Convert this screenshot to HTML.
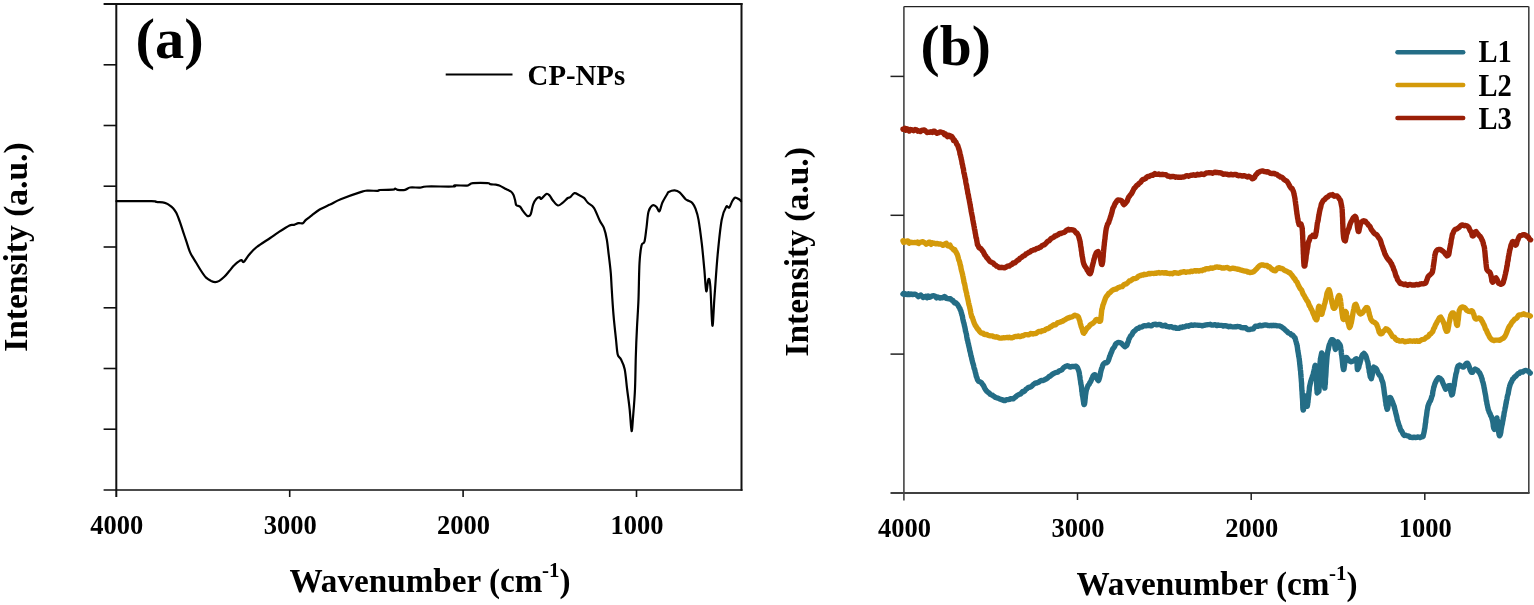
<!DOCTYPE html>
<html><head><meta charset="utf-8"><title>FTIR spectra</title>
<style>
html,body{margin:0;padding:0;background:#fff;}
body{width:1534px;height:605px;overflow:hidden;}
svg{display:block;}
svg text{font-family:"Liberation Serif", "Times New Roman", serif;font-weight:bold;fill:#000;}
</style></head>
<body>
<svg width="1534" height="605" viewBox="0 0 1534 605">
<g stroke="#111" fill="none" stroke-linecap="butt">
<line x1="103.6" y1="4.0" x2="742.5" y2="4.0" stroke-width="1.9"/>
<line x1="103.6" y1="490.0" x2="742.5" y2="490.0" stroke-width="1.7"/>
<line x1="116.3" y1="3.0" x2="116.3" y2="497" stroke-width="2"/>
<line x1="741.5" y1="3.0" x2="741.5" y2="490.8" stroke-width="2"/>
<line x1="103.6" y1="64.8" x2="116.3" y2="64.8" stroke-width="1.6"/>
<line x1="103.6" y1="125.5" x2="116.3" y2="125.5" stroke-width="1.6"/>
<line x1="103.6" y1="186.2" x2="116.3" y2="186.2" stroke-width="1.6"/>
<line x1="103.6" y1="247.0" x2="116.3" y2="247.0" stroke-width="1.6"/>
<line x1="103.6" y1="307.8" x2="116.3" y2="307.8" stroke-width="1.6"/>
<line x1="103.6" y1="368.5" x2="116.3" y2="368.5" stroke-width="1.6"/>
<line x1="103.6" y1="429.2" x2="116.3" y2="429.2" stroke-width="1.6"/>
<line x1="289.7" y1="490.0" x2="289.7" y2="497" stroke-width="1.6"/>
<line x1="463.1" y1="490.0" x2="463.1" y2="497" stroke-width="1.6"/>
<line x1="636.5" y1="490.0" x2="636.5" y2="497" stroke-width="1.6"/>
</g>
<path d="M116.5,201.2 C122.3,201.2 144.9,201.1 151.6,201.2 C158.3,201.3 154.3,201.6 156.5,201.9 C158.7,202.2 162.7,202.4 164.8,202.9 C166.9,203.4 167.5,204.0 168.9,204.9 C170.3,205.8 171.8,206.8 173.1,208.2 C174.3,209.6 175.3,210.9 176.4,213.1 C177.5,215.3 178.6,218.4 179.7,221.4 C180.8,224.4 181.9,228.0 183.0,231.3 C184.1,234.6 185.2,237.9 186.3,241.2 C187.4,244.5 188.6,248.7 189.6,251.2 C190.6,253.7 191.0,254.2 192.1,256.1 C193.2,258.0 194.7,260.2 196.2,262.7 C197.7,265.2 199.5,268.5 201.2,271.0 C202.8,273.5 204.4,276.0 206.1,277.6 C207.8,279.2 209.6,280.1 211.1,280.9 C212.6,281.6 213.8,282.1 215.2,282.1 C216.6,282.1 217.8,281.8 219.3,280.9 C220.8,280.0 222.6,278.4 224.3,276.8 C226.0,275.2 227.7,272.9 229.3,271.0 C231.0,269.1 232.5,266.8 234.2,265.2 C235.8,263.6 237.9,261.9 239.2,261.1 C240.4,260.3 240.9,260.1 241.7,260.2 C242.5,260.3 242.5,262.9 243.8,261.9 C245.1,260.9 247.1,256.9 249.3,254.4 C251.5,251.9 253.3,249.7 256.8,247.0 C260.3,244.3 266.7,240.4 270.2,238.0 C273.7,235.6 274.4,234.9 277.6,232.8 C280.8,230.7 286.8,226.7 289.5,225.4 C292.2,224.1 292.5,225.3 294.0,224.9 C295.5,224.5 297.0,223.5 298.5,223.2 C300.0,222.9 301.7,223.8 302.9,223.2 C304.1,222.6 304.4,221.2 305.9,219.9 C307.4,218.6 309.6,217.1 311.8,215.4 C314.0,213.7 316.3,211.6 319.3,209.8 C322.3,208.0 326.4,206.3 330.0,204.6 C333.6,202.8 335.5,201.4 340.7,199.3 C345.9,197.2 356.9,193.3 361.3,191.9 C365.7,190.5 364.3,190.9 367.1,190.7 C369.9,190.5 375.8,190.9 377.9,190.8 C380.0,190.7 377.0,190.2 379.5,190.0 C382.0,189.8 390.1,189.9 392.7,189.7 C395.3,189.5 394.4,188.6 395.2,188.6 C396.0,188.6 396.0,189.6 397.7,189.8 C399.4,190.0 403.0,190.2 405.1,189.8 C407.2,189.4 407.6,187.9 410.1,187.5 C412.6,187.1 417.2,187.8 420.0,187.6 C422.8,187.4 421.1,186.7 426.6,186.5 C432.1,186.3 448.4,186.7 453.1,186.5 C457.8,186.3 452.4,185.6 454.7,185.4 C457.0,185.2 464.6,185.8 467.1,185.6 C469.6,185.4 468.6,184.9 469.6,184.5 C470.6,184.1 469.9,183.3 472.9,183.1 C475.9,182.9 484.9,182.9 487.8,183.1 C490.7,183.3 488.8,183.9 490.2,184.2 C491.6,184.5 494.5,184.5 496.0,184.7 C497.5,184.9 497.6,184.8 499.3,185.5 C501.0,186.2 504.1,188.0 506.0,189.0 C507.9,190.0 509.7,190.5 510.9,191.5 C512.1,192.5 512.7,193.4 513.4,194.8 C514.1,196.2 514.5,198.1 515.0,199.8 C515.5,201.5 515.5,204.0 516.3,205.1 C517.1,206.2 518.9,205.6 520.0,206.6 C521.1,207.6 521.9,209.6 523.1,211.2 C524.3,212.8 526.0,215.3 527.3,215.9 C528.5,216.5 529.6,216.4 530.6,214.5 C531.6,212.6 532.1,207.2 533.1,204.6 C534.1,202.0 535.3,200.0 536.4,198.8 C537.5,197.6 538.9,197.2 539.7,197.2 C540.5,197.2 540.2,199.4 541.3,198.8 C542.4,198.2 544.9,194.5 546.3,193.9 C547.7,193.3 548.5,194.4 549.6,195.5 C550.7,196.6 551.5,198.8 552.9,200.5 C554.3,202.2 556.2,205.2 557.9,205.5 C559.5,205.8 561.1,203.8 562.8,202.6 C564.4,201.3 566.6,198.9 567.8,198.0 C569.0,197.1 569.1,198.0 570.2,197.2 C571.3,196.4 572.9,193.5 574.4,193.1 C575.9,192.7 577.4,194.2 579.0,195.0 C580.6,195.8 582.5,196.6 584.0,197.9 C585.5,199.2 586.2,201.2 587.9,202.8 C589.5,204.5 591.9,204.8 593.9,207.8 C595.9,210.8 598.1,217.4 599.8,220.7 C601.4,224.0 602.6,224.5 603.8,227.6 C605.0,230.7 606.0,234.9 606.8,239.5 C607.6,244.1 608.1,249.8 608.8,255.4 C609.5,261.0 610.3,267.5 610.8,273.3 C611.3,279.1 611.3,283.1 611.8,290.0 C612.2,296.9 612.8,306.6 613.5,314.8 C614.2,323.1 615.3,332.9 616.0,339.5 C616.7,346.1 616.9,351.1 617.7,354.4 C618.5,357.7 619.7,356.8 620.9,359.3 C622.1,361.8 623.7,364.2 624.7,369.2 C625.7,374.1 626.3,382.4 627.1,389.0 C627.9,395.6 628.9,401.8 629.6,408.8 C630.4,415.8 631.0,430.2 631.6,431.0 C632.2,431.8 632.7,420.8 633.3,413.8 C633.9,406.8 634.6,398.5 635.0,389.0 C635.4,379.5 635.5,367.1 635.8,356.8 C636.1,346.5 636.5,336.7 637.0,327.1 C637.5,317.5 638.1,309.6 638.5,299.0 C638.9,288.4 639.0,272.2 639.5,263.3 C640.0,254.4 640.7,249.1 641.5,245.5 C642.3,241.9 643.7,244.5 644.5,241.5 C645.3,238.5 645.8,232.6 646.5,227.6 C647.2,222.6 647.5,215.4 648.5,211.7 C649.5,208.0 651.1,206.2 652.4,205.4 C653.7,204.6 655.2,205.8 656.4,206.8 C657.6,207.8 658.4,212.0 659.4,211.3 C660.4,210.6 661.0,205.7 662.3,202.8 C663.6,199.9 666.2,195.7 667.3,193.9 C668.4,192.1 667.5,192.5 668.7,191.9 C669.9,191.3 672.9,190.3 674.7,190.4 C676.5,190.5 677.8,190.9 679.6,192.4 C681.4,193.9 684.1,197.8 685.6,199.2 C687.1,200.6 687.5,200.1 688.6,200.8 C689.8,201.5 691.4,202.0 692.5,203.3 C693.6,204.6 694.5,206.0 695.5,208.7 C696.5,211.4 697.5,213.8 698.5,219.6 C699.5,225.4 700.8,235.2 701.8,243.6 C702.8,252.0 703.6,262.2 704.4,270.1 C705.1,278.1 705.6,289.8 706.3,291.3 C707.0,292.8 707.7,280.2 708.4,279.3 C709.1,278.4 709.6,278.3 710.3,286.0 C711.0,293.7 711.7,323.9 712.4,325.7 C713.1,327.5 713.6,308.5 714.5,296.6 C715.4,284.7 716.5,267.0 717.7,254.2 C718.9,241.4 720.3,227.6 721.7,219.7 C723.1,211.8 725.0,208.8 726.2,206.8 C727.5,204.8 728.2,208.5 729.2,207.6 C730.2,206.7 731.2,203.0 732.2,201.3 C733.2,199.6 734.0,197.9 735.1,197.6 C736.2,197.3 738.1,198.7 739.1,199.3 C740.1,199.9 740.7,200.9 741.0,201.2" fill="none" stroke="#000" stroke-width="2.2" stroke-linejoin="round" stroke-linecap="round"/>
<g stroke="#222" fill="none">
<line x1="903.9" y1="6.6" x2="1528.8" y2="6.6" stroke-width="1.4"/>
<line x1="890.5" y1="493" x2="1529.6" y2="493" stroke-width="1.7" stroke="#000"/>
<line x1="903.9" y1="6.6" x2="903.9" y2="500.5" stroke-width="1.6" stroke="#444"/>
<line x1="1528.8" y1="6.6" x2="1528.8" y2="493.0" stroke-width="1.6" stroke="#444"/>
<line x1="890.5" y1="354.1" x2="903.9" y2="354.1" stroke-width="1.5"/>
<line x1="890.5" y1="215.3" x2="903.9" y2="215.3" stroke-width="1.5"/>
<line x1="890.5" y1="76.4" x2="903.9" y2="76.4" stroke-width="1.5"/>
<line x1="1077.5" y1="493.0" x2="1077.5" y2="500" stroke-width="1.5"/>
<line x1="1251.2" y1="493.0" x2="1251.2" y2="500" stroke-width="1.5"/>
<line x1="1424.8" y1="493.0" x2="1424.8" y2="500" stroke-width="1.5"/>
</g>
<path d="M903.0,294.0 L903.7,293.4 L904.4,294.5 L905.3,293.7 L906.3,294.3 L907.4,294.5 L908.5,293.7 L909.7,294.6 L911.0,294.0 L912.4,294.6 L913.8,294.3 L915.3,294.1 L916.7,295.1 L918.3,296.6 L919.8,295.4 L920.8,295.0 L921.9,296.2 L923.1,297.5 L924.3,297.0 L925.6,296.3 L926.9,297.7 L928.2,296.0 L929.6,297.2 L930.9,296.7 L932.3,295.9 L933.7,295.7 L935.1,296.3 L936.4,297.9 L937.7,296.9 L939.0,297.4 L940.2,298.1 L941.4,297.6 L942.6,297.8 L943.6,296.9 L944.6,296.5 L945.5,297.0 L946.3,298.4 L948.9,298.8 L950.4,298.6 L951.2,299.6 L951.9,300.2 L952.9,300.4 L953.9,302.2 L954.8,303.1 L955.8,302.8 L956.8,303.7 L957.7,304.8 L958.6,306.4 L959.5,308.0 L959.9,308.3 L960.2,309.8 L960.6,310.2 L961.0,311.2 L961.3,312.9 L961.6,313.5 L961.9,314.9 L962.3,315.8 L962.6,317.6 L962.9,319.3 L963.2,320.5 L963.5,322.1 L963.9,323.0 L964.2,324.5 L964.5,326.0 L964.8,327.0 L965.0,328.0 L965.3,329.6 L965.5,331.1 L965.8,331.8 L966.1,333.0 L966.3,333.7 L966.6,335.4 L966.8,336.9 L967.1,338.5 L967.3,339.7 L967.6,340.3 L967.8,341.4 L968.1,343.1 L968.4,343.7 L968.6,345.1 L968.9,346.2 L969.1,347.2 L969.4,348.2 L969.7,350.3 L970.0,351.2 L970.3,352.3 L970.6,353.7 L970.9,355.6 L971.2,356.2 L971.5,357.5 L971.8,359.0 L972.2,360.6 L972.5,361.9 L972.8,363.1 L973.1,363.6 L973.3,364.6 L973.6,365.6 L973.9,367.2 L974.2,368.6 L974.4,368.6 L974.8,370.0 L975.2,371.7 L975.6,373.2 L976.0,374.9 L976.3,376.4 L976.7,377.3 L977.0,377.9 L977.3,379.2 L977.7,380.1 L978.6,381.2 L979.5,381.6 L981.0,382.4 L981.5,382.8 L982.1,383.7 L982.8,384.8 L983.4,385.3 L984.2,387.1 L984.9,388.6 L985.7,389.9 L986.5,391.0 L987.4,391.7 L988.3,392.5 L989.3,393.1 L990.2,394.3 L991.2,394.7 L992.3,395.1 L993.3,396.0 L994.5,396.7 L995.6,397.5 L996.8,397.8 L997.9,398.1 L999.1,398.7 L1000.2,399.1 L1001.4,399.7 L1002.5,399.6 L1003.7,400.5 L1004.9,400.6 L1006.0,399.9 L1007.2,399.6 L1008.3,399.5 L1009.5,399.3 L1010.7,398.6 L1011.9,398.9 L1013.1,398.9 L1014.4,397.7 L1015.7,396.9 L1016.6,395.9 L1017.6,395.2 L1018.6,394.8 L1019.6,394.2 L1020.6,394.0 L1021.6,392.8 L1022.7,391.5 L1023.7,391.7 L1024.8,390.8 L1025.9,389.4 L1026.9,388.8 L1028.0,387.7 L1029.1,387.2 L1030.1,387.2 L1031.2,386.6 L1032.2,385.7 L1033.3,384.5 L1034.4,383.8 L1035.5,383.0 L1036.6,383.0 L1037.7,382.5 L1038.8,382.1 L1039.9,381.2 L1041.1,380.4 L1042.2,380.5 L1043.3,380.5 L1044.4,379.9 L1045.5,379.2 L1046.6,378.7 L1047.7,378.0 L1048.8,376.8 L1049.9,376.3 L1050.9,375.6 L1052.1,374.5 L1053.2,373.7 L1054.3,373.2 L1055.5,372.6 L1056.6,372.4 L1057.8,372.2 L1058.9,371.0 L1059.9,370.7 L1061.0,370.3 L1062.0,369.7 L1062.9,368.5 L1063.8,367.5 L1064.6,367.0 L1065.3,366.6 L1067.4,365.8 L1068.6,366.1 L1069.4,366.8 L1070.6,367.0 L1071.9,366.5 L1073.3,366.4 L1074.8,366.6 L1076.1,366.2 L1077.2,367.2 L1077.8,368.5 L1078.2,369.5 L1078.6,370.5 L1078.9,371.5 L1079.2,372.5 L1079.5,374.7 L1079.8,376.4 L1080.0,377.6 L1080.2,379.2 L1080.3,379.8 L1080.5,380.8 L1080.7,382.7 L1080.9,384.1 L1081.1,384.7 L1081.3,385.8 L1081.5,387.2 L1081.7,389.4 L1081.8,391.0 L1082.0,391.5 L1082.2,393.1 L1082.3,394.7 L1082.5,395.4 L1082.8,396.9 L1083.1,399.0 L1083.3,400.5 L1083.5,401.7 L1083.8,403.9 L1084.0,404.6 L1084.3,404.3 L1084.5,404.3 L1084.6,403.2 L1084.8,402.5 L1084.9,401.4 L1085.1,399.3 L1085.3,397.6 L1085.4,396.1 L1085.6,394.5 L1085.8,393.4 L1086.0,391.8 L1086.3,390.5 L1086.5,389.2 L1087.0,388.5 L1087.5,386.9 L1088.0,385.6 L1088.6,384.8 L1089.2,384.2 L1089.8,382.8 L1090.4,382.1 L1091.1,380.6 L1091.7,379.0 L1092.4,377.6 L1093.1,375.8 L1093.7,375.2 L1094.4,374.7 L1095.2,374.9 L1096.1,377.2 L1096.9,378.5 L1097.7,379.9 L1098.4,380.6 L1098.8,380.1 L1099.1,378.9 L1099.5,377.9 L1099.8,376.6 L1100.1,375.5 L1100.4,373.4 L1100.7,372.2 L1101.0,370.8 L1101.4,369.3 L1101.8,368.3 L1102.3,366.8 L1102.7,365.4 L1103.2,364.4 L1103.7,363.8 L1104.9,362.8 L1106.2,362.9 L1107.6,362.0 L1108.0,361.1 L1108.5,360.3 L1108.9,359.0 L1109.3,357.7 L1109.7,356.3 L1110.2,355.5 L1110.6,354.1 L1111.1,352.9 L1111.6,352.0 L1112.3,349.9 L1113.0,348.5 L1113.8,347.8 L1114.6,346.6 L1115.3,344.7 L1116.1,343.5 L1116.9,343.2 L1118.3,342.4 L1119.6,342.6 L1121.0,343.0 L1122.2,344.1 L1123.6,345.5 L1124.9,346.7 L1126.2,345.8 L1126.7,345.4 L1127.1,344.7 L1127.6,342.9 L1128.0,342.2 L1128.4,341.2 L1128.9,339.1 L1129.5,338.2 L1130.1,336.8 L1130.8,335.6 L1131.5,335.2 L1132.2,334.2 L1133.0,332.4 L1133.8,331.5 L1134.7,330.8 L1135.7,329.9 L1136.7,328.9 L1137.7,328.4 L1138.7,328.3 L1139.8,327.2 L1141.0,327.1 L1142.2,326.8 L1143.4,325.9 L1144.7,325.7 L1146.0,325.9 L1147.3,325.7 L1148.4,324.9 L1149.5,325.6 L1150.7,325.7 L1151.8,325.7 L1153.0,324.7 L1154.2,324.4 L1155.5,324.2 L1156.7,324.9 L1158.0,324.7 L1159.3,324.4 L1160.6,324.7 L1161.7,325.6 L1162.9,325.9 L1164.1,325.4 L1165.4,325.3 L1166.6,326.4 L1167.9,326.7 L1169.1,327.0 L1170.4,326.7 L1171.6,326.7 L1172.9,327.6 L1174.1,327.8 L1175.3,327.4 L1176.4,328.3 L1177.7,328.3 L1179.0,328.3 L1180.3,327.3 L1181.5,327.6 L1182.8,326.8 L1184.0,327.0 L1185.2,326.6 L1186.4,326.0 L1187.5,325.9 L1188.6,326.2 L1189.7,325.5 L1191.1,325.0 L1192.4,325.3 L1193.6,325.2 L1194.8,325.0 L1195.9,325.1 L1197.2,325.1 L1198.5,325.3 L1200.0,325.4 L1201.0,325.4 L1202.1,325.9 L1203.1,325.5 L1204.2,325.4 L1205.3,325.0 L1206.5,324.9 L1207.7,324.6 L1209.0,324.6 L1210.3,324.3 L1211.7,325.0 L1213.2,325.1 L1214.8,324.7 L1215.8,324.9 L1216.9,325.6 L1218.1,324.9 L1219.3,325.4 L1220.6,325.4 L1221.9,325.4 L1223.2,326.0 L1224.6,325.7 L1226.0,325.8 L1227.4,326.2 L1228.7,326.7 L1230.1,326.3 L1231.4,326.7 L1232.8,326.9 L1234.0,326.9 L1235.3,326.8 L1236.5,326.7 L1237.6,326.5 L1238.6,326.6 L1239.6,326.6 L1241.4,327.6 L1243.0,327.7 L1244.5,327.7 L1245.8,327.8 L1247.0,329.0 L1248.2,329.6 L1249.2,329.6 L1250.2,329.3 L1251.1,329.1 L1252.0,329.1 L1253.3,328.9 L1254.0,327.9 L1254.6,327.1 L1255.4,326.1 L1256.9,326.2 L1257.8,326.4 L1258.9,325.8 L1260.0,325.2 L1261.3,325.9 L1262.7,325.5 L1264.0,325.2 L1265.4,324.9 L1266.8,325.2 L1268.2,325.5 L1269.5,325.7 L1270.7,325.4 L1271.8,325.7 L1273.3,325.3 L1274.7,325.5 L1276.0,325.5 L1277.2,325.9 L1278.4,325.9 L1279.5,325.9 L1280.6,326.5 L1281.7,327.0 L1282.9,328.0 L1284.1,328.8 L1285.2,329.9 L1286.2,330.8 L1287.3,331.7 L1288.2,332.8 L1289.2,333.2 L1290.3,333.6 L1291.4,334.9 L1292.4,334.9 L1293.3,335.9 L1294.2,337.1 L1295.0,337.8 L1295.4,339.2 L1295.7,340.6 L1296.0,341.4 L1296.3,342.6 L1296.6,343.9 L1296.9,344.4 L1297.1,345.8 L1297.4,347.4 L1297.6,349.1 L1297.8,350.6 L1298.1,352.1 L1298.3,353.3 L1298.5,354.6 L1298.6,355.6 L1298.8,356.6 L1299.0,357.3 L1299.1,358.0 L1299.3,359.2 L1299.4,360.7 L1299.6,361.8 L1299.7,363.7 L1299.9,365.0 L1300.0,366.2 L1300.2,367.6 L1300.3,369.0 L1300.4,370.1 L1300.6,370.9 L1300.7,372.9 L1300.8,374.4 L1300.9,375.3 L1301.0,376.4 L1301.1,377.8 L1301.2,378.5 L1301.3,380.3 L1301.4,381.4 L1301.5,382.4 L1301.6,383.8 L1301.6,385.8 L1301.7,386.8 L1301.8,388.5 L1301.9,390.3 L1302.0,391.1 L1302.1,392.0 L1302.1,393.3 L1302.2,394.7 L1302.3,396.0 L1302.3,396.9 L1302.4,397.8 L1302.5,399.1 L1302.6,400.7 L1302.7,402.6 L1302.7,404.9 L1302.8,406.1 L1302.8,407.5 L1302.9,408.1 L1302.9,408.7 L1303.1,409.4 L1303.2,410.1 L1303.4,409.9 L1303.6,409.0 L1303.8,407.3 L1304.0,405.8 L1304.3,404.0 L1304.5,402.2 L1304.8,400.0 L1305.0,399.1 L1305.3,397.3 L1305.5,396.9 L1305.7,396.7 L1305.9,396.0 L1306.1,397.2 L1306.3,399.6 L1306.5,402.0 L1306.7,403.5 L1306.9,404.7 L1307.1,405.5 L1307.3,406.3 L1307.4,405.3 L1307.6,404.7 L1307.7,403.5 L1307.8,402.7 L1308.0,402.1 L1308.1,400.1 L1308.3,399.0 L1308.4,397.5 L1308.6,396.2 L1308.8,394.6 L1308.9,392.4 L1309.1,391.4 L1309.3,389.8 L1309.4,387.8 L1309.6,386.3 L1309.8,385.8 L1310.1,384.3 L1310.5,382.6 L1310.9,380.9 L1311.3,379.8 L1311.6,378.6 L1312.0,378.1 L1312.4,376.3 L1312.8,375.6 L1313.1,375.0 L1313.5,372.6 L1313.9,371.2 L1314.3,369.3 L1314.6,367.7 L1315.0,365.9 L1315.3,365.3 L1315.6,366.0 L1315.7,367.2 L1315.8,367.7 L1315.9,368.1 L1315.9,369.1 L1316.0,370.1 L1316.1,371.0 L1316.2,372.3 L1316.2,374.6 L1316.3,375.8 L1316.4,377.8 L1316.5,378.9 L1316.5,380.2 L1316.6,382.0 L1316.6,383.3 L1316.7,384.8 L1316.8,386.9 L1316.8,388.5 L1316.9,389.6 L1317.0,390.4 L1317.1,391.6 L1317.1,392.6 L1317.2,392.9 L1318.9,391.3 L1319.0,389.9 L1319.0,389.5 L1319.1,388.6 L1319.1,387.8 L1319.2,386.7 L1319.2,385.0 L1319.3,383.3 L1319.4,382.8 L1319.4,381.0 L1319.5,379.6 L1319.5,378.1 L1319.6,376.5 L1319.6,375.5 L1319.7,374.5 L1319.7,372.3 L1319.8,370.9 L1319.8,369.2 L1319.9,367.9 L1320.0,366.4 L1320.0,364.7 L1320.1,363.3 L1320.1,362.2 L1320.2,361.9 L1320.3,360.7 L1320.4,359.2 L1320.4,359.0 L1320.5,358.8 L1321.7,352.9 L1323.0,355.1 L1323.1,355.6 L1323.2,356.4 L1323.2,357.6 L1323.3,358.6 L1323.4,360.0 L1323.4,361.5 L1323.5,363.3 L1323.6,365.4 L1323.6,367.0 L1323.7,368.3 L1323.7,369.8 L1323.8,371.7 L1323.9,373.3 L1323.9,374.9 L1324.0,376.2 L1324.0,377.9 L1324.1,380.3 L1324.2,381.2 L1324.2,382.5 L1324.3,384.0 L1324.3,385.4 L1324.4,385.8 L1324.5,386.3 L1324.5,386.8 L1324.6,387.3 L1324.7,387.6 L1324.8,388.1 L1324.9,387.9 L1324.9,387.4 L1325.0,385.8 L1325.1,384.6 L1325.2,384.4 L1325.3,383.9 L1325.4,382.3 L1325.4,380.9 L1325.5,378.9 L1325.6,377.6 L1325.7,376.9 L1325.8,375.5 L1325.9,373.8 L1326.0,372.3 L1326.1,369.9 L1326.2,367.8 L1326.3,366.2 L1326.4,365.0 L1326.5,363.9 L1326.6,362.8 L1326.7,361.3 L1326.8,359.8 L1326.9,358.7 L1327.0,357.3 L1327.1,356.3 L1327.4,353.8 L1327.6,352.6 L1327.9,350.7 L1328.2,349.8 L1328.5,348.4 L1328.8,346.7 L1329.2,345.2 L1329.5,344.3 L1329.8,343.9 L1330.1,343.3 L1330.4,342.0 L1331.6,339.8 L1332.8,339.8 L1333.8,340.7 L1334.1,341.3 L1334.4,342.3 L1334.6,344.2 L1334.7,345.4 L1334.9,346.9 L1335.1,348.3 L1335.4,349.4 L1335.8,348.7 L1336.3,347.3 L1336.9,345.0 L1337.4,342.9 L1337.9,341.9 L1338.5,342.8 L1339.2,343.7 L1339.8,344.5 L1340.4,345.8 L1340.6,347.1 L1340.8,348.7 L1341.0,349.7 L1341.2,350.7 L1341.3,352.5 L1341.5,354.4 L1341.7,355.2 L1341.8,356.0 L1342.0,357.6 L1342.2,359.2 L1342.4,361.2 L1342.5,362.4 L1342.7,364.6 L1342.9,366.4 L1343.1,367.5 L1343.3,368.2 L1343.5,369.6 L1343.7,369.5 L1343.9,369.4 L1344.1,368.0 L1344.3,366.4 L1344.5,365.3 L1344.7,363.2 L1344.9,361.9 L1345.2,360.2 L1345.5,358.4 L1345.9,357.5 L1346.8,357.7 L1347.8,358.9 L1348.9,360.7 L1350.1,361.2 L1351.2,361.7 L1352.6,361.2 L1354.1,360.7 L1355.5,359.2 L1356.5,358.7 L1356.8,359.5 L1357.0,361.2 L1357.1,363.6 L1357.1,365.6 L1357.2,367.1 L1357.3,368.7 L1357.5,369.6 L1357.8,369.0 L1358.1,368.2 L1358.4,368.2 L1358.8,367.3 L1359.2,365.2 L1359.6,364.1 L1360.1,362.5 L1360.5,360.8 L1361.0,359.2 L1361.4,357.5 L1361.9,355.9 L1362.3,355.0 L1362.7,354.4 L1363.1,354.5 L1364.0,353.4 L1364.8,354.4 L1365.5,355.2 L1366.2,356.8 L1367.0,359.7 L1367.2,360.8 L1367.5,361.4 L1367.8,362.0 L1368.0,363.7 L1368.3,365.2 L1368.5,367.3 L1368.8,368.3 L1369.1,369.7 L1369.3,371.9 L1369.6,372.6 L1369.8,374.0 L1370.1,375.8 L1370.3,377.0 L1370.6,377.1 L1370.8,377.4 L1371.0,377.8 L1371.3,378.7 L1371.6,377.6 L1371.9,376.5 L1372.2,375.2 L1372.4,372.7 L1372.7,370.5 L1373.0,369.6 L1373.3,368.3 L1373.7,367.1 L1374.3,367.4 L1375.0,367.7 L1375.8,368.4 L1376.6,369.3 L1377.4,371.3 L1378.2,373.2 L1378.9,374.2 L1379.5,375.4 L1380.0,375.3 L1380.5,376.0 L1381.0,377.2 L1381.5,378.9 L1381.9,380.4 L1382.4,381.3 L1382.9,382.9 L1383.1,383.9 L1383.3,385.1 L1383.5,386.8 L1383.7,387.4 L1383.9,389.1 L1384.1,390.8 L1384.3,392.3 L1384.5,393.8 L1384.7,395.1 L1384.9,396.3 L1385.1,397.6 L1385.3,399.2 L1385.5,401.1 L1385.7,401.9 L1385.9,403.0 L1386.0,404.9 L1386.2,405.6 L1386.4,406.1 L1386.6,406.8 L1386.7,408.0 L1386.9,408.4 L1387.2,409.3 L1387.5,408.9 L1387.8,407.7 L1388.1,405.3 L1388.3,402.8 L1388.6,400.7 L1388.9,399.4 L1389.2,398.6 L1389.5,397.7 L1390.1,397.4 L1390.7,398.0 L1391.4,399.4 L1392.1,401.0 L1392.8,402.8 L1393.5,404.8 L1393.8,405.6 L1394.1,405.9 L1394.4,407.6 L1394.7,408.6 L1395.0,410.0 L1395.4,411.2 L1395.7,412.9 L1396.0,413.8 L1396.3,415.0 L1396.6,416.3 L1396.9,417.4 L1397.2,419.4 L1397.5,420.5 L1397.9,421.5 L1398.3,422.8 L1398.8,424.8 L1399.2,425.8 L1399.6,426.4 L1400.0,428.1 L1400.4,429.2 L1400.9,430.5 L1401.4,430.6 L1402.1,431.8 L1402.8,433.5 L1403.5,434.6 L1404.3,435.5 L1405.3,435.2 L1406.7,435.6 L1407.6,435.8 L1408.8,436.1 L1410.0,437.2 L1411.3,437.3 L1412.7,437.6 L1414.1,437.2 L1415.5,437.5 L1416.8,437.3 L1418.1,436.9 L1419.1,437.3 L1420.0,437.6 L1421.6,436.7 L1422.5,436.9 L1423.1,436.3 L1423.8,433.3 L1424.0,432.6 L1424.2,431.5 L1424.4,430.5 L1424.5,429.5 L1424.7,428.7 L1424.9,427.7 L1425.1,425.9 L1425.3,424.1 L1425.5,423.0 L1425.7,422.1 L1425.8,420.2 L1426.0,418.7 L1426.2,417.2 L1426.4,416.4 L1426.6,415.0 L1426.8,413.1 L1427.0,411.6 L1427.1,410.7 L1427.3,409.9 L1427.5,409.1 L1427.7,407.6 L1428.1,405.6 L1428.5,404.8 L1429.0,403.6 L1429.4,402.4 L1429.8,401.5 L1430.2,401.4 L1430.7,400.0 L1431.1,399.0 L1431.5,397.6 L1431.8,396.5 L1432.1,395.9 L1432.4,395.0 L1432.7,393.0 L1432.9,391.2 L1433.2,390.4 L1433.5,388.7 L1433.8,386.9 L1434.1,386.6 L1434.4,385.3 L1434.7,384.4 L1435.1,383.2 L1435.4,382.7 L1436.3,380.7 L1437.4,378.9 L1438.4,377.7 L1439.5,378.0 L1440.5,378.7 L1441.1,379.6 L1441.7,379.8 L1442.2,381.3 L1442.8,382.8 L1443.4,384.3 L1444.0,385.4 L1444.5,386.7 L1445.1,388.0 L1445.6,389.2 L1446.7,388.2 L1447.7,386.6 L1448.6,385.6 L1449.5,385.6 L1449.9,385.5 L1450.2,386.5 L1450.5,389.1 L1450.8,391.5 L1451.1,392.7 L1451.4,393.4 L1451.7,394.9 L1452.1,394.6 L1452.3,394.4 L1452.5,393.7 L1452.8,392.9 L1453.0,391.1 L1453.2,390.3 L1453.5,388.5 L1453.7,387.0 L1454.0,386.1 L1454.3,384.7 L1454.5,382.4 L1454.8,380.5 L1455.0,379.3 L1455.2,378.0 L1455.5,376.6 L1455.7,375.1 L1455.9,374.1 L1456.3,372.8 L1456.7,371.5 L1457.0,369.1 L1457.3,368.0 L1457.6,367.4 L1458.0,365.9 L1458.5,365.8 L1459.6,365.1 L1461.0,365.9 L1462.4,366.8 L1463.6,367.1 L1464.6,365.9 L1465.6,364.3 L1466.5,363.3 L1467.4,363.1 L1467.9,363.8 L1468.4,364.7 L1468.9,366.0 L1469.3,367.0 L1469.8,368.9 L1470.3,370.4 L1470.8,371.1 L1471.3,372.3 L1472.5,372.2 L1473.7,370.3 L1475.1,369.1 L1475.9,369.6 L1476.8,369.9 L1477.7,370.5 L1478.6,371.8 L1479.5,372.7 L1480.3,374.3 L1480.7,375.4 L1481.1,375.8 L1481.4,377.3 L1481.8,378.0 L1482.1,379.5 L1482.5,381.0 L1482.8,382.0 L1483.1,382.6 L1483.4,384.3 L1483.8,385.8 L1484.1,387.8 L1484.3,388.2 L1484.5,389.8 L1484.8,391.4 L1485.0,392.4 L1485.2,393.7 L1485.4,394.3 L1485.7,396.2 L1485.9,397.4 L1486.1,399.0 L1486.3,400.6 L1486.6,401.0 L1486.8,402.6 L1487.0,404.3 L1487.2,404.6 L1487.4,405.6 L1487.7,407.3 L1487.9,407.7 L1488.3,409.9 L1488.8,410.9 L1489.2,412.4 L1489.7,413.0 L1490.2,414.0 L1490.6,415.6 L1491.0,416.0 L1491.4,416.7 L1491.8,418.1 L1492.1,419.3 L1492.5,420.4 L1492.8,422.0 L1493.1,423.7 L1493.3,426.1 L1493.6,427.5 L1493.9,428.7 L1494.1,428.8 L1494.4,429.4 L1494.7,428.5 L1495.0,427.5 L1495.2,426.3 L1495.5,424.2 L1495.8,422.7 L1496.1,420.8 L1496.3,419.3 L1496.6,418.8 L1496.9,417.9 L1497.1,419.0 L1497.3,419.9 L1497.4,420.6 L1497.6,422.4 L1497.8,423.7 L1497.9,426.0 L1498.1,427.7 L1498.3,429.0 L1498.5,431.1 L1498.7,432.5 L1498.9,433.4 L1499.1,434.9 L1499.3,435.1 L1499.5,435.8 L1499.7,435.4 L1500.0,435.1 L1500.2,434.9 L1500.5,433.7 L1500.8,432.4 L1501.0,430.7 L1501.3,428.7 L1501.6,427.0 L1501.9,425.5 L1502.2,424.4 L1502.5,422.8 L1502.7,421.1 L1503.0,420.1 L1503.3,418.0 L1503.5,416.6 L1503.8,415.9 L1504.0,414.2 L1504.2,412.7 L1504.4,411.8 L1504.7,410.5 L1504.9,409.4 L1505.1,408.1 L1505.4,407.1 L1505.6,406.1 L1505.8,404.4 L1506.1,403.4 L1506.3,402.3 L1506.5,400.6 L1506.7,400.2 L1507.0,398.7 L1507.2,397.2 L1507.5,395.7 L1507.8,394.9 L1508.1,394.1 L1508.3,392.8 L1508.6,391.0 L1508.9,389.4 L1509.2,387.9 L1509.4,387.3 L1509.7,386.3 L1510.0,385.0 L1510.3,384.2 L1510.7,383.2 L1511.0,382.8 L1511.8,381.2 L1512.6,379.2 L1513.5,378.7 L1514.4,377.2 L1515.3,376.5 L1516.2,375.8 L1517.2,374.6 L1518.2,373.5 L1519.2,373.4 L1520.2,372.2 L1521.3,371.9 L1522.6,372.1 L1523.9,371.0 L1525.4,370.4 L1526.6,370.8 L1527.7,370.9 L1528.9,371.6 L1529.8,372.9 L1530.3,373.1" fill="none" stroke="#246d86" stroke-width="5.4" stroke-linejoin="round" stroke-linecap="round"/>
<path d="M903.0,240.8 L903.7,242.4 L904.5,241.2 L905.5,241.9 L906.6,241.1 L907.8,240.9 L909.1,243.1 L910.4,242.1 L911.8,242.5 L913.2,242.6 L914.6,242.5 L916.0,242.7 L917.3,242.1 L918.6,243.5 L919.8,242.4 L921.1,242.1 L922.3,241.7 L923.6,242.1 L924.9,242.8 L926.2,244.2 L927.5,243.4 L928.8,242.2 L930.0,242.3 L931.2,244.3 L932.4,242.8 L933.6,243.2 L934.7,243.3 L935.7,243.8 L937.3,243.4 L938.8,244.0 L940.2,244.0 L941.6,244.3 L942.9,245.3 L944.1,245.0 L945.2,243.7 L946.3,243.3 L947.7,245.8 L948.9,246.0 L950.0,245.2 L951.0,247.3 L951.9,247.9 L952.9,248.8 L953.6,250.0 L954.3,249.4 L954.9,249.7 L955.5,251.6 L956.1,252.0 L956.7,253.5 L957.3,254.5 L957.9,256.4 L958.2,257.6 L958.5,258.9 L958.8,260.0 L959.1,260.6 L959.4,261.3 L959.7,262.3 L960.0,264.0 L960.4,265.4 L960.7,266.2 L961.0,268.3 L961.3,269.6 L961.6,271.0 L961.9,271.9 L962.2,273.1 L962.5,274.2 L962.8,275.8 L963.1,277.0 L963.3,278.3 L963.6,279.5 L963.8,281.2 L964.1,282.7 L964.4,283.2 L964.6,284.3 L964.9,285.4 L965.2,287.1 L965.4,289.0 L965.7,289.5 L966.0,291.0 L966.2,292.0 L966.5,292.7 L966.8,294.7 L967.0,295.7 L967.3,296.5 L967.5,297.9 L967.8,299.0 L968.1,300.3 L968.4,301.7 L968.6,303.0 L968.9,304.4 L969.2,305.4 L969.5,306.3 L969.7,307.5 L970.0,308.7 L970.3,310.4 L970.6,311.6 L970.8,313.2 L971.1,314.2 L971.4,315.4 L971.7,316.9 L972.0,317.0 L972.4,317.5 L972.7,318.6 L973.2,320.3 L973.8,321.9 L974.3,323.4 L974.8,324.2 L975.4,325.8 L976.0,326.1 L976.6,327.5 L977.2,328.1 L977.9,329.4 L978.6,329.6 L979.3,331.0 L980.2,332.1 L981.2,333.0 L982.1,333.3 L983.2,333.2 L984.2,334.4 L985.4,334.6 L986.6,334.4 L987.9,335.2 L989.3,335.7 L990.3,335.9 L991.4,335.9 L992.6,335.9 L993.8,336.7 L995.0,337.0 L996.3,336.8 L997.6,337.2 L998.9,337.8 L1000.3,338.1 L1001.6,338.0 L1003.0,337.8 L1004.4,337.8 L1005.8,337.6 L1007.0,337.5 L1008.1,337.7 L1009.4,337.3 L1010.6,337.7 L1011.9,337.8 L1013.1,337.5 L1014.4,336.6 L1015.7,336.5 L1017.0,336.5 L1018.3,336.0 L1019.5,336.5 L1020.8,336.5 L1022.0,335.8 L1023.3,335.7 L1024.4,335.0 L1025.6,334.6 L1026.9,334.6 L1028.1,334.8 L1029.4,334.5 L1030.6,333.5 L1031.7,333.6 L1032.9,334.0 L1034.0,333.6 L1035.2,333.5 L1036.3,333.3 L1037.5,332.2 L1038.6,331.5 L1039.8,331.5 L1040.9,331.7 L1042.1,330.8 L1043.2,330.7 L1044.4,330.4 L1045.5,329.4 L1046.7,328.8 L1047.9,328.7 L1049.1,328.1 L1050.3,326.8 L1051.4,326.6 L1052.6,325.5 L1053.7,324.8 L1054.8,325.0 L1055.9,324.6 L1056.9,323.4 L1057.8,322.6 L1058.7,322.5 L1060.2,322.2 L1061.5,321.5 L1062.7,321.1 L1063.8,320.4 L1064.8,319.9 L1065.8,319.3 L1066.8,318.5 L1067.9,318.1 L1069.3,317.6 L1070.7,317.1 L1072.2,316.9 L1073.6,315.9 L1074.9,315.2 L1076.1,315.8 L1077.2,316.0 L1077.9,316.5 L1078.5,317.1 L1079.0,318.9 L1079.4,319.8 L1079.8,320.9 L1080.2,322.9 L1080.5,324.1 L1080.8,324.9 L1081.2,326.5 L1081.8,328.0 L1082.3,329.4 L1082.8,331.5 L1083.3,332.8 L1083.8,333.2 L1084.4,332.4 L1085.0,331.8 L1085.6,330.4 L1086.5,329.2 L1087.2,328.0 L1088.1,327.3 L1089.0,326.6 L1089.9,325.2 L1090.9,324.4 L1091.8,323.9 L1092.9,323.2 L1094.0,322.2 L1095.1,321.1 L1096.1,319.6 L1097.0,319.4 L1098.3,320.5 L1099.3,321.3 L1100.2,321.2 L1100.4,321.1 L1100.6,320.4 L1100.8,319.4 L1101.0,317.2 L1101.1,315.9 L1101.3,315.0 L1101.4,313.4 L1101.6,311.4 L1101.8,309.5 L1102.0,309.0 L1102.3,308.2 L1102.6,306.6 L1103.0,304.9 L1103.4,304.0 L1103.8,303.0 L1104.2,301.7 L1104.7,300.3 L1105.2,298.9 L1105.7,297.7 L1106.3,296.7 L1107.1,295.6 L1107.9,294.7 L1108.8,293.3 L1109.7,292.9 L1110.7,291.9 L1111.8,290.7 L1112.9,290.0 L1113.9,289.6 L1115.0,289.2 L1116.2,289.1 L1117.4,288.1 L1118.6,287.5 L1119.8,287.2 L1121.0,286.6 L1122.2,286.6 L1123.2,285.5 L1124.2,284.5 L1125.2,284.2 L1126.2,283.9 L1127.2,283.3 L1128.2,282.2 L1129.3,281.0 L1130.3,280.8 L1131.4,280.2 L1132.5,279.3 L1133.6,278.7 L1134.7,278.6 L1135.9,278.3 L1137.0,277.8 L1138.2,276.4 L1139.4,275.8 L1140.7,275.5 L1142.0,274.9 L1143.1,275.1 L1144.2,274.3 L1145.4,274.6 L1146.5,274.4 L1147.7,274.0 L1148.9,273.5 L1150.2,273.8 L1151.4,273.4 L1152.7,273.4 L1154.0,273.5 L1155.3,273.1 L1156.4,273.3 L1157.6,272.8 L1158.8,272.5 L1160.0,273.0 L1161.2,272.9 L1162.4,272.6 L1163.7,273.0 L1164.9,273.1 L1166.1,272.6 L1167.4,273.3 L1168.6,273.4 L1169.9,273.7 L1171.1,273.5 L1172.3,273.7 L1173.6,273.1 L1174.8,272.6 L1176.1,272.8 L1177.3,273.1 L1178.6,273.2 L1179.8,272.9 L1181.1,272.1 L1182.3,272.1 L1183.5,271.7 L1184.7,271.8 L1185.9,272.4 L1187.0,271.9 L1188.4,271.9 L1189.8,271.9 L1191.1,271.2 L1192.3,271.5 L1193.6,271.0 L1194.8,270.7 L1196.1,271.1 L1197.3,270.6 L1198.6,271.1 L1200.0,270.7 L1201.1,270.5 L1202.2,270.7 L1203.3,269.6 L1204.4,269.9 L1205.5,268.9 L1206.7,268.7 L1207.8,268.7 L1209.1,268.8 L1210.4,268.0 L1211.7,268.2 L1213.2,268.0 L1214.8,267.5 L1215.8,267.1 L1216.9,267.0 L1218.1,267.2 L1219.3,267.3 L1220.6,267.4 L1221.9,268.0 L1223.2,267.8 L1224.6,268.0 L1226.0,267.6 L1227.4,267.5 L1228.7,268.3 L1230.1,268.9 L1231.4,268.5 L1232.8,268.1 L1234.0,268.3 L1235.3,268.7 L1236.5,268.9 L1237.6,269.3 L1238.6,269.2 L1239.6,269.6 L1241.4,270.2 L1242.9,270.6 L1244.3,271.0 L1245.6,271.2 L1246.8,271.2 L1247.9,272.1 L1248.9,272.0 L1250.0,272.6 L1251.0,272.4 L1252.0,272.3 L1253.1,271.9 L1254.2,271.3 L1255.2,270.2 L1256.1,269.3 L1257.0,268.5 L1257.9,267.2 L1258.8,266.4 L1259.8,265.6 L1260.7,265.1 L1262.0,264.8 L1263.3,265.0 L1264.6,265.5 L1265.9,265.4 L1267.1,265.5 L1268.3,266.8 L1269.3,266.7 L1270.5,267.9 L1271.6,269.1 L1272.5,269.4 L1273.4,270.4 L1274.3,270.6 L1275.4,270.8 L1276.5,269.4 L1277.7,268.0 L1279.3,267.6 L1280.3,268.5 L1281.5,268.5 L1282.8,268.8 L1284.1,270.1 L1285.5,270.8 L1286.8,271.3 L1288.0,271.9 L1289.2,272.7 L1290.1,272.8 L1291.0,274.3 L1291.8,275.0 L1292.7,276.4 L1293.4,277.2 L1294.2,278.6 L1295.0,279.0 L1295.8,280.8 L1296.6,281.6 L1297.2,282.5 L1297.7,283.6 L1298.3,285.2 L1298.9,286.2 L1299.5,287.4 L1300.1,288.5 L1300.6,289.0 L1301.2,289.6 L1301.8,290.5 L1302.4,292.3 L1303.0,293.9 L1303.5,294.8 L1304.1,295.4 L1304.7,296.6 L1305.3,297.9 L1305.9,298.6 L1306.5,300.0 L1307.1,300.8 L1307.7,301.5 L1308.3,302.6 L1308.8,304.2 L1309.4,305.8 L1310.0,306.4 L1310.5,307.4 L1311.0,308.8 L1311.5,309.4 L1312.2,310.9 L1312.8,312.7 L1313.4,314.0 L1314.0,315.2 L1314.6,317.0 L1315.1,318.4 L1315.6,318.7 L1316.1,319.6 L1316.5,319.8 L1316.8,319.5 L1317.1,318.6 L1317.3,317.0 L1317.6,315.6 L1317.8,313.6 L1317.9,312.0 L1318.1,309.8 L1318.3,308.3 L1318.5,307.3 L1318.7,306.8 L1318.9,306.3 L1319.2,306.7 L1319.6,308.0 L1319.9,309.8 L1320.2,311.5 L1320.6,313.1 L1321.0,314.2 L1321.4,314.2 L1321.7,314.3 L1322.1,313.6 L1322.4,312.0 L1322.8,310.6 L1323.2,309.2 L1323.6,308.2 L1323.9,306.8 L1324.3,304.7 L1324.7,303.6 L1325.1,302.4 L1325.5,300.6 L1325.8,299.1 L1326.2,298.0 L1326.6,295.6 L1326.9,293.6 L1327.3,292.5 L1327.7,291.7 L1328.1,290.9 L1328.5,289.9 L1328.9,290.1 L1329.2,289.9 L1329.5,290.6 L1329.8,292.2 L1330.1,293.4 L1330.4,294.4 L1330.7,296.0 L1331.0,297.5 L1331.4,299.2 L1331.7,301.3 L1332.0,303.1 L1332.3,303.8 L1332.7,305.4 L1333.0,307.1 L1333.3,307.8 L1333.7,308.2 L1334.0,308.4 L1334.5,308.3 L1335.0,307.7 L1335.5,306.5 L1336.0,304.3 L1336.5,303.2 L1337.0,301.0 L1337.5,299.1 L1338.0,297.3 L1338.4,296.4 L1338.9,295.4 L1339.3,295.5 L1339.5,296.1 L1339.8,296.7 L1340.0,297.8 L1340.2,298.6 L1340.5,300.1 L1340.7,302.0 L1340.9,303.5 L1341.1,305.3 L1341.3,307.1 L1341.5,308.3 L1341.7,309.7 L1341.9,311.6 L1342.1,313.4 L1342.3,314.6 L1342.5,315.9 L1342.7,317.2 L1342.8,318.0 L1343.0,318.7 L1343.2,319.1 L1343.7,319.4 L1344.1,318.1 L1344.5,316.3 L1345.0,313.4 L1345.4,311.4 L1345.9,312.0 L1346.2,312.4 L1346.4,313.4 L1346.7,315.0 L1347.0,316.4 L1347.2,317.8 L1347.5,319.9 L1347.8,321.5 L1348.1,322.8 L1348.5,323.9 L1348.8,325.0 L1349.1,326.6 L1349.5,327.6 L1349.8,327.0 L1350.1,326.6 L1350.3,326.2 L1350.6,325.3 L1350.9,323.8 L1351.2,323.1 L1351.5,321.6 L1351.8,320.0 L1352.1,318.4 L1352.4,316.4 L1352.7,314.9 L1353.0,312.8 L1353.3,311.4 L1353.6,310.2 L1353.9,308.8 L1354.2,307.2 L1354.5,305.9 L1354.8,305.0 L1355.1,304.5 L1355.8,304.3 L1356.4,305.4 L1357.0,307.1 L1357.7,309.1 L1358.3,310.7 L1359.0,312.7 L1359.7,313.4 L1360.4,314.0 L1361.3,313.6 L1362.3,313.0 L1363.3,311.8 L1364.3,310.3 L1365.3,308.8 L1366.2,307.7 L1367.0,307.5 L1367.5,307.8 L1367.9,308.6 L1368.4,310.1 L1368.7,311.7 L1369.1,312.7 L1369.4,314.8 L1369.8,315.8 L1370.2,316.9 L1370.6,318.5 L1371.0,319.5 L1372.0,320.9 L1373.1,321.8 L1374.2,322.2 L1375.3,323.0 L1376.3,323.8 L1376.8,324.9 L1377.3,326.1 L1377.8,327.2 L1378.2,328.6 L1378.7,330.2 L1379.1,331.9 L1379.7,332.8 L1380.3,333.7 L1381.2,333.8 L1382.3,333.3 L1383.4,331.2 L1384.6,330.4 L1385.8,328.8 L1386.9,329.1 L1387.7,330.0 L1388.5,330.2 L1389.3,331.4 L1390.1,332.5 L1390.9,333.7 L1391.8,335.3 L1392.6,336.7 L1393.5,336.9 L1394.5,337.3 L1395.4,338.9 L1396.2,339.6 L1397.2,340.4 L1398.3,340.3 L1399.7,341.1 L1401.4,341.0 L1402.4,340.7 L1403.4,341.0 L1404.6,341.8 L1405.9,341.5 L1407.2,341.3 L1408.6,341.2 L1410.0,340.8 L1411.4,341.1 L1412.8,341.2 L1414.2,341.0 L1415.5,341.3 L1416.8,340.8 L1418.0,341.3 L1419.1,341.4 L1420.0,340.8 L1421.7,339.7 L1423.1,339.4 L1424.2,339.1 L1425.2,338.5 L1426.0,337.6 L1426.8,337.1 L1427.7,336.9 L1428.7,335.9 L1429.5,334.4 L1430.3,334.1 L1431.1,333.5 L1431.9,332.4 L1432.8,331.5 L1433.3,329.8 L1433.9,328.2 L1434.5,327.7 L1435.1,325.9 L1435.8,324.2 L1436.4,323.6 L1437.0,322.0 L1437.6,321.1 L1438.2,320.2 L1438.7,319.1 L1439.2,318.1 L1440.7,317.1 L1441.9,319.1 L1443.1,321.4 L1443.5,322.4 L1443.9,323.4 L1444.4,324.6 L1444.8,326.6 L1445.2,328.3 L1445.6,329.5 L1446.1,330.4 L1446.5,331.4 L1446.9,331.4 L1447.2,331.0 L1447.5,331.1 L1447.8,330.3 L1448.1,329.0 L1448.4,327.1 L1448.7,325.6 L1449.0,323.4 L1449.3,322.0 L1449.6,321.0 L1449.9,319.4 L1450.2,318.2 L1450.5,316.8 L1450.8,315.4 L1452.1,313.0 L1453.4,312.9 L1454.6,314.7 L1454.9,315.4 L1455.3,316.7 L1455.6,318.6 L1455.8,319.9 L1456.1,321.2 L1456.4,323.6 L1456.7,324.8 L1456.9,324.8 L1457.2,325.4 L1457.4,325.3 L1457.6,324.7 L1457.8,323.0 L1457.9,321.5 L1458.1,320.7 L1458.3,319.3 L1458.5,317.2 L1458.6,316.1 L1458.8,314.1 L1459.0,312.9 L1459.2,311.0 L1459.5,309.8 L1459.7,309.7 L1460.9,307.6 L1462.3,306.9 L1463.6,307.3 L1464.5,307.6 L1465.4,308.5 L1466.4,310.0 L1467.4,310.7 L1468.7,311.4 L1470.1,311.5 L1471.5,310.7 L1472.6,311.3 L1473.2,313.2 L1473.7,314.1 L1474.0,315.1 L1474.5,317.1 L1475.1,318.5 L1476.2,319.0 L1477.5,318.7 L1478.9,318.0 L1480.3,318.5 L1480.9,319.0 L1481.5,320.3 L1482.1,321.3 L1482.6,321.9 L1483.2,323.5 L1483.8,324.4 L1484.4,325.8 L1484.9,327.1 L1485.4,328.9 L1486.0,329.7 L1486.6,330.7 L1487.1,332.2 L1487.6,333.0 L1488.1,334.2 L1488.7,335.1 L1489.2,336.4 L1490.1,337.9 L1491.0,338.8 L1491.9,339.9 L1493.1,340.2 L1494.2,340.6 L1495.5,340.1 L1496.9,340.1 L1498.3,340.1 L1499.5,340.3 L1500.6,339.8 L1501.6,338.9 L1502.6,338.5 L1503.6,338.0 L1504.6,336.8 L1505.2,335.8 L1505.8,334.6 L1506.3,333.5 L1506.9,332.0 L1507.5,330.4 L1508.1,328.9 L1508.6,327.6 L1509.2,326.6 L1509.7,325.8 L1510.5,325.0 L1511.3,323.4 L1512.0,322.3 L1512.8,321.4 L1513.6,320.7 L1514.4,319.4 L1515.3,318.9 L1516.2,318.4 L1517.0,317.7 L1517.9,316.3 L1518.7,315.2 L1519.9,314.9 L1521.1,314.9 L1522.6,314.2 L1523.8,313.8 L1525.2,314.6 L1526.7,314.9 L1528.2,315.2 L1529.4,315.5 L1530.3,316.1" fill="none" stroke="#d49a0a" stroke-width="5.4" stroke-linejoin="round" stroke-linecap="round"/>
<path d="M903.0,129.2 L903.7,129.0 L904.6,128.4 L905.6,130.1 L906.8,128.8 L908.0,129.3 L909.3,131.0 L910.7,129.5 L912.2,129.9 L913.6,130.7 L915.1,129.5 L916.5,129.9 L917.9,131.2 L919.1,131.0 L920.3,131.5 L921.6,130.5 L922.9,130.2 L924.3,130.0 L925.6,131.0 L927.0,132.5 L928.3,132.2 L929.7,132.4 L931.0,131.8 L932.2,132.4 L933.4,131.3 L934.6,131.2 L935.7,132.5 L937.1,133.3 L938.5,132.8 L939.8,131.9 L941.1,132.2 L942.3,132.5 L943.4,132.9 L944.5,134.7 L945.6,134.1 L946.6,135.5 L947.6,136.7 L948.8,135.2 L949.9,135.7 L950.9,137.0 L951.8,136.6 L952.7,137.9 L953.5,140.4 L954.3,139.8 L955.1,141.2 L955.7,141.8 L956.3,143.0 L956.8,144.5 L957.3,144.9 L957.7,145.4 L958.1,146.6 L958.6,148.4 L959.0,149.5 L959.5,151.0 L959.8,152.4 L960.0,154.1 L960.3,154.8 L960.6,155.7 L960.8,157.1 L961.1,157.8 L961.3,159.3 L961.6,160.3 L961.9,161.9 L962.1,163.8 L962.4,164.2 L962.7,165.7 L962.9,167.3 L963.2,168.2 L963.5,169.4 L963.7,171.6 L964.0,173.3 L964.2,173.4 L964.5,174.8 L964.7,176.5 L964.9,177.0 L965.1,178.2 L965.4,179.0 L965.6,180.2 L965.8,181.9 L966.0,183.2 L966.3,184.6 L966.5,185.1 L966.7,186.3 L966.9,188.2 L967.2,189.3 L967.4,190.3 L967.6,191.4 L967.8,193.2 L968.1,194.2 L968.3,194.6 L968.5,196.4 L968.7,197.4 L968.9,198.5 L969.2,199.5 L969.4,200.9 L969.6,202.1 L969.8,203.0 L970.1,204.7 L970.3,205.6 L970.5,207.3 L970.7,208.0 L971.0,209.7 L971.2,211.3 L971.4,212.1 L971.6,213.4 L971.8,214.2 L972.1,215.7 L972.3,216.7 L972.5,217.5 L972.7,219.4 L972.9,220.2 L973.1,221.2 L973.4,223.1 L973.7,224.2 L973.9,225.7 L974.2,226.7 L974.4,228.6 L974.7,229.7 L974.9,230.5 L975.2,232.8 L975.4,233.6 L975.7,235.3 L975.9,237.0 L976.1,237.7 L976.3,237.9 L976.5,238.6 L976.6,239.7 L976.8,240.7 L977.3,243.6 L977.4,244.8 L977.7,244.9 L978.2,245.6 L978.8,247.3 L979.5,248.0 L980.3,248.1 L981.8,249.8 L982.3,250.8 L982.9,251.1 L983.5,252.2 L984.2,253.8 L984.9,255.1 L985.7,255.9 L986.6,257.5 L987.4,258.1 L988.3,259.4 L989.3,260.7 L990.2,261.7 L991.2,262.2 L992.2,262.5 L993.3,263.1 L994.4,264.5 L995.5,265.1 L996.7,266.2 L997.8,266.5 L999.0,267.5 L1000.1,267.6 L1001.2,267.3 L1002.4,267.5 L1003.5,267.7 L1004.7,267.7 L1005.8,267.2 L1007.0,266.4 L1008.1,266.0 L1009.3,266.0 L1010.5,265.1 L1011.8,264.6 L1013.1,263.0 L1014.0,263.1 L1014.9,262.8 L1015.9,261.8 L1016.9,260.9 L1017.8,260.2 L1018.8,259.9 L1019.9,258.4 L1020.9,257.8 L1021.9,257.2 L1022.9,256.2 L1023.9,255.8 L1025.0,255.2 L1026.0,253.8 L1027.0,253.6 L1028.0,252.9 L1029.2,252.2 L1030.3,251.7 L1031.5,250.6 L1032.7,250.3 L1033.9,249.8 L1035.0,249.7 L1036.2,248.7 L1037.4,248.5 L1038.5,248.1 L1039.7,247.4 L1040.8,247.1 L1041.9,245.7 L1042.9,245.3 L1044.0,244.9 L1045.1,244.2 L1046.1,243.2 L1047.1,241.9 L1048.1,241.1 L1049.0,240.8 L1050.0,239.8 L1050.9,238.7 L1051.9,238.2 L1052.9,237.7 L1053.8,237.2 L1054.8,236.0 L1055.9,235.9 L1057.1,235.1 L1058.3,234.7 L1059.5,233.5 L1060.7,233.6 L1061.9,233.0 L1063.1,232.7 L1064.1,232.4 L1065.1,231.8 L1066.0,230.6 L1066.7,230.1 L1068.3,229.3 L1069.3,230.0 L1070.2,229.7 L1071.4,229.7 L1072.7,229.9 L1074.0,230.3 L1075.2,231.7 L1076.2,232.9 L1076.9,233.0 L1077.5,233.9 L1077.9,234.7 L1078.4,235.6 L1078.8,236.8 L1079.2,238.5 L1079.7,240.1 L1079.9,240.8 L1080.1,242.2 L1080.3,243.1 L1080.5,244.4 L1080.7,246.4 L1080.9,246.9 L1081.1,248.0 L1081.3,250.2 L1081.5,251.1 L1081.7,252.4 L1081.9,254.5 L1082.1,255.9 L1082.3,256.6 L1082.5,257.5 L1082.7,258.7 L1082.9,259.9 L1083.1,261.3 L1083.7,263.7 L1084.3,265.0 L1084.8,266.1 L1085.4,267.0 L1086.0,267.7 L1086.6,268.7 L1087.3,270.3 L1088.0,271.1 L1088.7,272.5 L1089.4,273.5 L1090.1,273.8 L1090.5,273.3 L1090.8,272.2 L1091.2,271.5 L1091.5,269.9 L1091.9,268.0 L1092.2,266.4 L1092.6,265.1 L1092.9,263.8 L1093.3,262.4 L1093.6,261.1 L1094.0,259.3 L1094.5,258.0 L1094.9,256.6 L1095.3,255.0 L1095.8,254.1 L1096.2,252.8 L1096.6,252.4 L1097.0,252.1 L1098.0,251.5 L1098.9,253.2 L1099.8,255.2 L1100.2,256.4 L1100.5,258.4 L1100.8,260.6 L1101.2,262.7 L1101.5,264.2 L1101.8,264.4 L1102.1,264.5 L1102.2,264.0 L1102.4,262.9 L1102.5,262.5 L1102.7,261.6 L1102.8,260.8 L1102.9,259.0 L1103.0,257.9 L1103.2,256.3 L1103.3,254.1 L1103.4,253.1 L1103.6,251.3 L1103.7,249.9 L1103.9,248.1 L1104.0,246.4 L1104.1,246.2 L1104.3,244.4 L1104.4,242.8 L1104.6,241.6 L1104.7,240.2 L1104.8,239.6 L1105.0,238.8 L1105.1,237.2 L1105.3,235.4 L1105.4,234.6 L1105.6,233.2 L1105.8,231.4 L1105.9,230.8 L1106.1,229.6 L1106.3,228.4 L1106.7,226.8 L1107.1,225.6 L1107.5,224.2 L1108.0,223.6 L1108.4,223.1 L1108.9,221.9 L1109.4,220.1 L1109.8,219.4 L1110.2,217.8 L1110.5,216.7 L1110.9,216.0 L1111.2,214.6 L1111.6,213.4 L1112.0,212.0 L1112.4,210.1 L1112.8,208.5 L1113.2,207.7 L1113.8,206.7 L1114.5,204.9 L1115.2,203.4 L1115.9,202.6 L1116.6,201.3 L1117.3,200.5 L1117.9,199.9 L1119.7,200.1 L1121.3,200.6 L1122.1,201.3 L1123.0,203.4 L1123.8,204.6 L1124.8,204.0 L1125.4,203.3 L1126.0,202.5 L1126.6,201.8 L1127.2,201.0 L1127.9,199.0 L1128.6,197.2 L1129.4,196.4 L1130.0,195.3 L1130.6,194.7 L1131.3,194.0 L1131.9,192.9 L1132.6,191.6 L1133.3,190.1 L1134.1,188.4 L1134.8,188.0 L1135.6,186.9 L1136.4,185.8 L1137.2,185.1 L1138.1,184.6 L1139.0,183.4 L1139.9,182.8 L1140.9,182.1 L1141.8,180.4 L1142.8,179.5 L1143.7,179.5 L1144.7,178.9 L1145.6,178.5 L1146.8,177.0 L1147.9,176.4 L1149.1,176.5 L1150.2,175.8 L1151.4,175.3 L1152.6,175.4 L1153.7,174.4 L1154.9,173.6 L1156.2,174.3 L1157.5,174.4 L1158.7,173.9 L1160.0,174.6 L1161.3,174.5 L1162.7,174.3 L1164.1,174.6 L1165.3,174.6 L1166.5,175.1 L1167.8,176.1 L1169.1,176.2 L1170.4,176.9 L1171.7,176.5 L1173.1,176.4 L1174.4,176.6 L1175.7,177.2 L1177.0,177.0 L1178.2,177.3 L1179.4,177.2 L1180.7,177.1 L1181.9,177.2 L1183.2,177.0 L1184.5,176.9 L1185.9,175.9 L1187.3,175.6 L1188.4,176.2 L1189.6,175.7 L1190.9,175.2 L1192.2,175.2 L1193.5,174.8 L1194.8,175.2 L1196.1,175.2 L1197.4,174.3 L1198.7,174.8 L1200.0,174.6 L1201.2,174.0 L1202.4,174.1 L1203.7,174.5 L1205.1,173.8 L1206.3,173.0 L1207.6,172.8 L1208.8,172.6 L1210.0,172.9 L1211.2,172.8 L1212.4,173.2 L1213.6,172.7 L1214.8,172.1 L1216.0,172.6 L1217.3,172.5 L1218.5,172.7 L1219.8,172.8 L1221.0,172.9 L1222.2,173.6 L1223.5,174.3 L1224.7,174.0 L1226.0,174.2 L1227.2,174.2 L1228.5,174.8 L1229.7,174.8 L1231.0,174.2 L1232.3,174.8 L1233.6,174.7 L1234.8,174.4 L1236.1,174.4 L1237.3,175.4 L1238.5,175.8 L1239.6,175.4 L1241.0,175.7 L1242.4,176.1 L1243.8,175.6 L1245.1,176.1 L1246.4,176.6 L1247.5,177.0 L1248.6,176.3 L1249.5,176.7 L1251.2,177.6 L1252.2,178.8 L1253.2,178.5 L1253.9,178.0 L1254.6,177.4 L1255.3,175.7 L1256.1,174.5 L1256.9,174.0 L1257.9,172.4 L1259.0,172.2 L1260.3,171.4 L1261.9,171.0 L1262.9,170.9 L1264.0,171.5 L1265.3,171.6 L1266.5,172.0 L1267.9,171.7 L1269.2,172.6 L1270.5,173.3 L1271.8,173.5 L1273.1,173.3 L1274.3,173.5 L1275.6,174.2 L1276.9,174.4 L1278.2,175.7 L1279.4,176.1 L1280.6,177.1 L1281.7,177.2 L1282.8,178.1 L1283.8,179.3 L1284.8,180.0 L1285.8,180.6 L1286.7,181.0 L1287.6,182.3 L1288.4,183.5 L1289.2,185.1 L1289.9,186.4 L1290.5,187.3 L1291.1,188.2 L1291.7,188.2 L1292.2,188.7 L1292.7,190.0 L1293.2,191.0 L1293.7,192.4 L1294.1,194.5 L1294.3,195.3 L1294.6,196.7 L1294.8,197.8 L1295.0,198.8 L1295.2,200.8 L1295.4,201.6 L1295.6,203.4 L1295.8,204.8 L1296.0,206.1 L1296.1,207.0 L1296.3,208.8 L1296.5,210.5 L1296.6,211.1 L1296.8,212.2 L1296.9,213.7 L1297.1,214.5 L1297.4,216.5 L1297.6,218.1 L1297.9,219.1 L1298.1,220.6 L1298.3,222.0 L1298.6,222.7 L1298.8,223.6 L1299.1,224.6 L1300.1,224.9 L1301.1,224.1 L1302.1,227.8 L1302.2,229.1 L1302.3,230.0 L1302.3,230.2 L1302.4,231.4 L1302.5,232.8 L1302.5,234.0 L1302.6,234.8 L1302.7,236.5 L1302.7,238.2 L1302.8,239.5 L1302.9,241.3 L1302.9,242.6 L1303.0,243.3 L1303.0,244.9 L1303.1,247.0 L1303.2,248.0 L1303.2,250.2 L1303.3,251.9 L1303.3,253.3 L1303.4,254.1 L1303.5,255.0 L1303.5,257.2 L1303.6,258.5 L1303.6,259.5 L1303.7,260.6 L1303.8,262.0 L1303.8,262.6 L1303.9,263.7 L1304.0,264.0 L1304.0,265.2 L1304.1,265.7 L1304.3,266.1 L1304.6,266.0 L1304.9,265.7 L1305.1,263.8 L1305.4,262.0 L1305.7,260.4 L1306.0,258.4 L1306.2,255.7 L1306.5,254.3 L1306.7,253.2 L1306.9,252.1 L1307.1,250.0 L1307.4,248.7 L1307.6,247.5 L1307.8,246.6 L1308.0,245.0 L1308.2,243.1 L1308.5,241.9 L1308.7,241.7 L1309.0,241.1 L1309.7,239.1 L1310.5,237.1 L1311.2,236.7 L1312.0,236.5 L1312.7,235.4 L1314.0,236.6 L1315.2,236.6 L1315.4,235.5 L1315.6,235.3 L1315.8,234.0 L1316.0,232.5 L1316.2,232.1 L1316.4,230.3 L1316.6,229.2 L1316.8,228.1 L1317.0,226.1 L1317.2,224.5 L1317.4,222.9 L1317.7,222.0 L1317.9,221.3 L1318.2,220.0 L1318.4,218.3 L1318.6,216.8 L1318.9,215.4 L1319.1,214.3 L1319.4,212.5 L1319.7,211.0 L1319.9,210.1 L1320.2,208.6 L1320.5,208.0 L1320.8,206.9 L1321.1,205.2 L1321.4,203.8 L1322.0,202.8 L1322.7,201.3 L1323.4,200.4 L1324.1,199.8 L1324.8,199.4 L1325.6,198.3 L1326.4,197.6 L1327.6,197.1 L1329.0,195.7 L1330.4,195.0 L1331.6,195.1 L1332.6,194.6 L1334.3,196.2 L1335.6,195.9 L1337.2,196.0 L1338.6,197.5 L1339.1,198.5 L1339.6,199.2 L1340.1,199.7 L1340.6,200.9 L1341.0,202.9 L1341.4,204.9 L1341.8,206.9 L1341.9,207.1 L1342.0,208.3 L1342.1,209.0 L1342.2,209.8 L1342.2,211.8 L1342.3,212.8 L1342.4,213.8 L1342.4,215.9 L1342.5,216.8 L1342.6,218.0 L1342.6,219.4 L1342.7,221.6 L1342.7,223.2 L1342.8,223.9 L1342.8,225.0 L1342.9,227.2 L1342.9,228.0 L1343.0,229.6 L1343.0,231.0 L1343.1,232.0 L1343.2,232.8 L1343.2,233.6 L1343.3,234.2 L1343.6,237.5 L1343.9,239.0 L1344.3,240.3 L1344.6,240.6 L1345.0,240.6 L1345.3,240.9 L1345.5,239.9 L1345.8,238.6 L1346.1,237.2 L1346.4,234.9 L1346.8,233.8 L1347.2,232.9 L1347.6,231.6 L1348.0,230.1 L1348.5,229.0 L1349.0,228.0 L1349.5,226.0 L1350.0,224.3 L1350.5,223.2 L1351.0,221.9 L1351.5,221.1 L1352.4,219.4 L1353.3,217.8 L1354.2,217.0 L1355.0,216.3 L1355.8,217.0 L1356.1,218.4 L1356.4,219.4 L1356.6,220.0 L1356.9,222.0 L1357.1,223.5 L1357.3,225.6 L1357.5,227.4 L1357.7,228.7 L1357.9,229.8 L1358.2,231.3 L1358.4,231.2 L1358.8,231.5 L1359.1,230.1 L1359.5,228.2 L1359.9,226.5 L1360.3,224.6 L1360.7,223.9 L1361.2,222.5 L1362.4,221.3 L1363.8,220.7 L1365.5,221.3 L1366.1,222.4 L1366.8,223.1 L1367.5,223.5 L1368.3,225.0 L1369.1,225.6 L1369.9,226.4 L1370.7,228.2 L1371.5,229.8 L1372.3,230.8 L1373.0,231.6 L1373.9,232.9 L1374.7,233.8 L1375.5,234.1 L1376.3,234.3 L1377.0,235.3 L1377.8,236.3 L1378.6,237.6 L1379.4,238.7 L1379.8,239.1 L1380.3,240.1 L1380.7,241.2 L1381.2,243.0 L1381.6,244.5 L1382.0,245.6 L1382.5,246.6 L1382.9,248.2 L1383.4,249.4 L1383.8,250.6 L1384.2,251.5 L1384.7,253.4 L1385.1,254.3 L1385.5,255.1 L1385.9,255.7 L1386.7,257.3 L1387.5,258.5 L1388.2,259.2 L1388.9,260.3 L1389.6,260.8 L1390.4,262.0 L1391.3,263.7 L1391.7,264.0 L1392.2,265.6 L1392.6,266.2 L1393.1,267.2 L1393.6,269.2 L1394.1,270.0 L1394.6,271.2 L1395.1,272.8 L1395.6,274.8 L1396.1,276.4 L1396.6,276.8 L1397.1,278.1 L1397.5,279.6 L1398.0,280.4 L1398.4,280.9 L1398.8,281.3 L1399.8,282.9 L1400.3,283.5 L1401.2,283.5 L1403.3,284.3 L1404.1,284.6 L1405.2,284.0 L1406.3,284.8 L1407.6,285.3 L1408.9,284.7 L1410.3,284.4 L1411.8,285.0 L1413.3,285.0 L1414.8,285.0 L1416.2,284.4 L1417.6,284.7 L1419.0,284.6 L1420.2,284.0 L1421.3,283.8 L1422.3,283.9 L1423.1,283.9 L1425.5,283.1 L1426.0,282.7 L1426.4,281.1 L1427.1,279.5 L1427.6,277.9 L1428.2,276.5 L1428.9,275.7 L1430.0,274.9 L1431.2,273.7 L1432.2,272.5 L1432.5,271.6 L1432.7,270.1 L1433.0,269.2 L1433.2,267.8 L1433.3,266.3 L1433.5,265.6 L1433.7,264.1 L1433.9,262.6 L1434.1,261.5 L1434.2,260.5 L1434.4,259.1 L1434.5,258.0 L1434.7,256.6 L1434.9,254.8 L1435.2,254.3 L1435.5,252.6 L1436.4,250.9 L1437.4,249.9 L1438.6,249.5 L1439.7,249.4 L1440.7,249.6 L1441.8,250.5 L1442.8,251.2 L1443.8,252.0 L1444.9,253.3 L1446.0,254.8 L1447.0,255.9 L1447.9,255.5 L1448.4,254.8 L1448.7,254.7 L1448.9,253.7 L1449.2,252.2 L1449.6,249.3 L1449.8,248.3 L1450.0,247.5 L1450.2,246.3 L1450.4,245.2 L1450.6,244.5 L1450.9,242.7 L1451.1,241.2 L1451.3,239.7 L1451.6,238.5 L1451.9,237.3 L1452.1,235.7 L1452.4,234.3 L1452.6,234.0 L1452.9,233.6 L1453.8,231.2 L1454.8,229.8 L1455.9,229.1 L1457.0,228.8 L1457.9,228.1 L1458.9,227.5 L1460.0,226.4 L1461.0,225.4 L1462.0,224.9 L1463.2,225.2 L1464.5,225.7 L1465.7,225.5 L1466.9,225.8 L1467.8,226.6 L1468.8,227.5 L1469.6,229.4 L1470.4,231.1 L1471.1,231.6 L1471.6,233.1 L1472.0,234.6 L1472.2,235.7 L1472.7,236.0 L1473.4,235.9 L1474.1,234.0 L1475.0,232.1 L1476.0,231.5 L1476.8,232.7 L1477.6,233.7 L1478.5,234.8 L1479.4,235.9 L1480.2,236.5 L1481.0,237.7 L1481.5,238.7 L1482.0,240.2 L1482.4,240.5 L1482.8,241.5 L1483.2,243.3 L1483.6,244.8 L1483.9,245.6 L1484.3,247.2 L1484.5,248.3 L1484.6,249.5 L1484.8,251.1 L1484.9,251.9 L1485.1,254.0 L1485.2,255.3 L1485.3,256.8 L1485.5,258.0 L1485.6,259.9 L1485.8,260.7 L1485.9,262.6 L1486.0,263.6 L1486.2,264.9 L1486.3,266.3 L1486.5,267.5 L1486.6,268.3 L1486.8,269.3 L1487.6,270.6 L1488.5,271.4 L1489.3,271.8 L1490.1,272.8 L1490.4,273.3 L1490.8,275.1 L1491.1,276.1 L1491.3,277.3 L1491.6,278.8 L1491.9,281.1 L1492.3,281.6 L1492.6,282.3 L1493.4,281.5 L1494.2,280.1 L1495.1,278.2 L1495.9,277.7 L1496.6,278.7 L1497.2,280.0 L1497.9,281.5 L1498.5,283.2 L1499.2,283.5 L1500.8,284.4 L1502.5,283.5 L1502.9,283.1 L1503.2,282.7 L1503.6,281.1 L1503.9,279.8 L1504.3,279.0 L1504.6,277.6 L1505.0,275.7 L1505.4,274.1 L1505.8,272.1 L1506.0,271.0 L1506.2,270.8 L1506.4,269.5 L1506.6,268.5 L1506.8,266.9 L1507.1,265.9 L1507.3,265.0 L1507.5,262.7 L1507.7,261.5 L1508.0,260.8 L1508.2,259.4 L1508.4,257.2 L1508.6,256.3 L1508.9,255.3 L1509.1,253.4 L1509.3,252.6 L1509.5,251.7 L1509.7,250.2 L1509.9,249.8 L1510.4,248.1 L1510.9,245.5 L1511.4,244.2 L1511.9,243.4 L1512.3,241.9 L1512.8,241.5 L1513.2,241.8 L1514.1,242.0 L1514.8,243.8 L1515.7,245.1 L1516.2,244.6 L1516.7,243.4 L1517.2,241.0 L1517.8,240.1 L1518.4,238.3 L1519.0,237.0 L1520.0,235.7 L1521.0,235.6 L1522.0,235.2 L1523.1,234.7 L1524.5,234.8 L1526.0,235.5 L1527.3,236.5 L1528.3,237.0 L1529.2,238.6 L1530.0,239.5 L1530.6,239.8" fill="none" stroke="#9a1f07" stroke-width="5.4" stroke-linejoin="round" stroke-linecap="round"/>
<line x1="1397.5" y1="52.2" x2="1463.2" y2="52.2" stroke="#246d86" stroke-width="4.5" stroke-linecap="round"/>
<text transform="translate(1478.50,62.20) scale(1.02,1.1)" font-size="28">L1</text>
<line x1="1397.5" y1="85.1" x2="1463.2" y2="85.1" stroke="#d49a0a" stroke-width="4.5" stroke-linecap="round"/>
<text transform="translate(1478.50,95.50) scale(1.02,1.1)" font-size="28">L2</text>
<line x1="1397.5" y1="117.9" x2="1463.2" y2="117.9" stroke="#9a1f07" stroke-width="4.5" stroke-linecap="round"/>
<text transform="translate(1478.50,128.50) scale(1.02,1.1)" font-size="28">L3</text>
<line x1="445.7" y1="74.6" x2="512.5" y2="74.6" stroke="#000" stroke-width="2"/>
<text transform="translate(527.60,85.20) scale(0.983,1.015)" font-size="29.3">CP-NPs</text>
<text transform="translate(135.50,57.50) scale(1.0,0.97)" font-size="58.5">(a)</text>
<text transform="translate(920.50,64.50)" font-size="57.5">(b)</text>
<text transform="translate(116.80,534.20) scale(1.0,1.06)" font-size="26.5" text-anchor="middle">4000</text>
<text transform="translate(904.40,536.70) scale(1.0,1.06)" font-size="26.5" text-anchor="middle">4000</text>
<text transform="translate(290.20,534.20) scale(1.0,1.06)" font-size="26.5" text-anchor="middle">3000</text>
<text transform="translate(1078.05,536.70) scale(1.0,1.06)" font-size="26.5" text-anchor="middle">3000</text>
<text transform="translate(463.60,534.20) scale(1.0,1.06)" font-size="26.5" text-anchor="middle">2000</text>
<text transform="translate(1251.70,536.70) scale(1.0,1.06)" font-size="26.5" text-anchor="middle">2000</text>
<text transform="translate(637.00,534.20) scale(1.0,1.06)" font-size="26.5" text-anchor="middle">1000</text>
<text transform="translate(1425.35,536.70) scale(1.0,1.06)" font-size="26.5" text-anchor="middle">1000</text>
<text transform="translate(289.50,592.00)" font-size="33.2">Wavenumber (cm<tspan font-size="21" dy="-15" dx="-0.5">-1</tspan><tspan dy="15">)</tspan></text>
<text transform="translate(1076.50,594.80)" font-size="33.2">Wavenumber (cm<tspan font-size="21" dy="-15" dx="-0.5">-1</tspan><tspan dy="15">)</tspan></text>
<text transform="translate(27.00,351.80) rotate(-90)" font-size="33.5">Intensity (a.u.)</text>
<text transform="translate(807.50,356.60) rotate(-90)" font-size="33.5">Intensity (a.u.)</text>
</svg>
</body></html>
